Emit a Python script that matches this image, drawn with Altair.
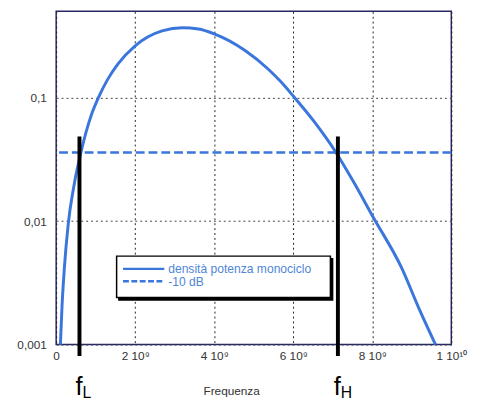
import altair as alt
import pandas as pd
import math

# ---- data ----
freq = [0.107e9, 0.15e9, 0.206e9, 0.306e9, 0.447e9, 0.636e9, 0.760e9, 0.894e9,
        1.063e9, 1.3e9, 1.565e9, 2.0e9, 2.68e9, 3.20e9, 3.6e9, 4.0e9, 4.79e9,
        5.37e9, 5.7e9, 6.0e9, 6.53e9, 7.07e9, 7.5e9, 8.02e9, 8.74e9, 9.2e9, 9.60e9]
density = [0.001, 0.0021, 0.0041, 0.0095, 0.0191, 0.037, 0.053, 0.073,
           0.099, 0.14, 0.188, 0.263, 0.347, 0.368, 0.36, 0.329, 0.24,
           0.17, 0.133, 0.103, 0.064, 0.0365, 0.0215, 0.0108, 0.0042, 0.0019, 0.001]
ref_level = [0.036]
marker_freq = [0.59e9, 7.13e9]
marker_sub = ["L", "H"]
marker_top = 0.0484
marker_bottom = 0.00081

x_ticks = [0, 2e9, 4e9, 6e9, 8e9, 1e10]
x_tick_labels = ["0", "2 10⁹", "4 10⁹", "6 10⁹", "8 10⁹", "1 10¹⁰"]
y_ticks = [0.001, 0.01, 0.1]
y_tick_labels = ["0,001", "0,01", "0,1"]
legend_labels = ["densità potenza monociclo", "-10 dB"]
x_title = "Frequenza"

BLUE = "#3a76dc"
LEGEND_TEXT = "#4f86d6"
FONT = "Liberation Sans"
W, H = 402, 339

curve_df = pd.DataFrame({"f": freq, "p": density})
ref_df = pd.DataFrame({"p": ref_level})
mark_df = pd.DataFrame({"f": marker_freq, "sub": marker_sub,
                        "top": [marker_top] * 2, "bot": [marker_bottom] * 2})
one = pd.DataFrame({"a": [0]})

x_expr = "[" + ",".join("'" + s + "'" for s in x_tick_labels) + "][indexof([" + \
    ",".join(repr(float(v)) for v in x_ticks) + "], datum.value)]"
y_expr = "''"
for v, s in zip(y_ticks, y_tick_labels):
    y_expr = f"abs(log(datum.value)/log(10) - ({math.log10(v)})) < 0.05 ? '{s}' : " + y_expr

xscale = alt.Scale(domain=[0, 1e10], nice=False, zero=False)
yscale = alt.Scale(type="log", domain=[0.001, 0.5], nice=False)

xaxis = alt.Axis(values=x_ticks, labelExpr=x_expr, ticks=False, domain=False,
                 grid=True, gridDash=[2, 3], gridColor="#222", gridWidth=1,
                 labelFontSize=12, labelFont=FONT, labelColor="#333",
                 labelPadding=6, labelFlush=False,
                 title=x_title, titleFont=FONT, titleFontSize=12,
                 titleFontWeight="normal", titleColor="#333",
                 titleX=178, titleY=47, titleBaseline="middle")
yaxis = alt.Axis(values=y_ticks, labelExpr=y_expr, ticks=False, domain=False,
                 grid=True, gridDash=[2, 3], gridColor="#444", gridWidth=1,
                 labelFontSize=12, labelFont=FONT, labelColor="#333",
                 labelPadding=10, title=None)

curve = alt.Chart(curve_df).mark_line(color=BLUE, strokeWidth=3,
                                      interpolate="monotone").encode(
    x=alt.X("f:Q", scale=xscale, axis=xaxis),
    y=alt.Y("p:Q", scale=yscale, axis=yaxis),
)

ref = alt.Chart(ref_df).mark_rule(color=BLUE, strokeWidth=2.5,
                                  strokeDash=[9, 4]).encode(
    y=alt.Y("p:Q", scale=yscale),
)

markers = alt.Chart(mark_df).mark_rule(color="black", strokeWidth=4).encode(
    x=alt.X("f:Q", scale=xscale),
    y=alt.Y("top:Q", scale=yscale),
    y2="bot:Q",
)

f_text = alt.Chart(mark_df).mark_text(text="f", font=FONT, fontSize=26,
                                      align="center", baseline="alphabetic",
                                      dx=-0.5, color="black").encode(
    x=alt.X("f:Q", scale=xscale),
    y=alt.value(H + 51),
)
sub_text = alt.Chart(mark_df).mark_text(font=FONT, fontSize=16, align="left",
                                        baseline="alphabetic", dx=3,
                                        color="black").encode(
    x=alt.X("f:Q", scale=xscale),
    y=alt.value(H + 54.5),
    text="sub:N",
)

# legend box (drawn by hand)
shadow = alt.Chart(one).mark_rect(color="black").encode(
    x=alt.value(63), x2=alt.value(282), y=alt.value(251), y2=alt.value(294.5))
box = alt.Chart(one).mark_rect(fill="white", stroke="black", strokeWidth=1.5).encode(
    x=alt.value(61.5), x2=alt.value(279), y=alt.value(249), y2=alt.value(291))
leg_solid = alt.Chart(one).mark_rule(color=BLUE, strokeWidth=2.5).encode(
    x=alt.value(68), x2=alt.value(110), y=alt.value(262))
leg_dash = alt.Chart(one).mark_rule(color=BLUE, strokeWidth=2.5,
                                    strokeDash=[6, 2.5]).encode(
    x=alt.value(68), x2=alt.value(110), y=alt.value(274.5))
leg_t1 = alt.Chart(one).mark_text(text=legend_labels[0], font=FONT, fontSize=12.3,
                                  align="left", baseline="middle",
                                  color=LEGEND_TEXT).encode(
    x=alt.value(114), y=alt.value(262))
leg_t2 = alt.Chart(one).mark_text(text=legend_labels[1], font=FONT, fontSize=12.3,
                                  align="left", baseline="middle",
                                  color=LEGEND_TEXT).encode(
    x=alt.value(114), y=alt.value(275.5))

chart = alt.layer(curve, ref, markers, shadow, box, leg_solid, leg_dash,
                  leg_t1, leg_t2, f_text, sub_text).properties(
    width=W, height=H, autosize="none",
    padding={"left": 49, "top": 0, "right": 18, "bottom": 55},
    background="white",
).configure_view(stroke="#262668", strokeWidth=1.5)

chart.save("out.html", embed_options={"renderer": "svg", "actions": False})
